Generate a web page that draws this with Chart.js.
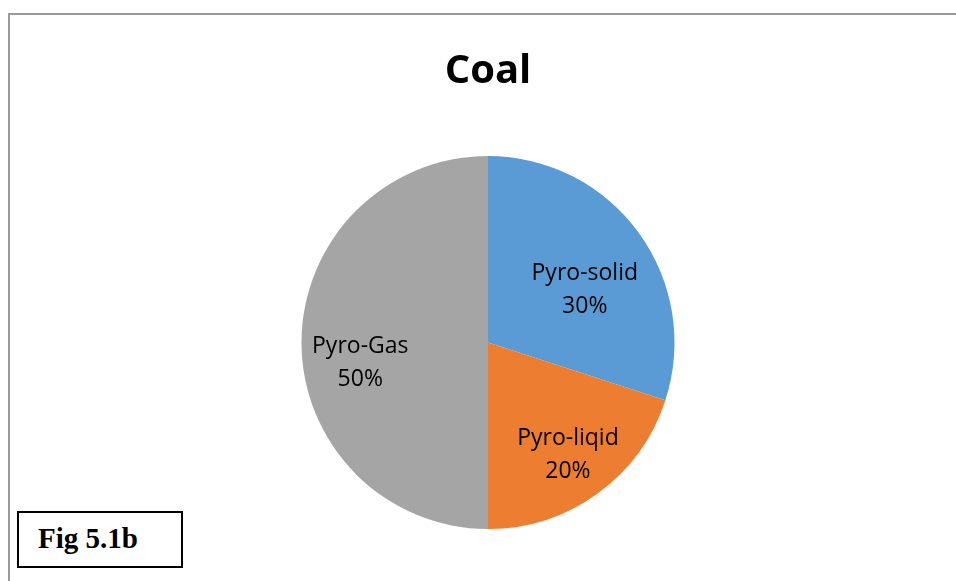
<!DOCTYPE html>
<html>
<head>
<meta charset="utf-8">
<script src="https://cdn.jsdelivr.net/npm/chart.js@4/dist/chart.umd.min.js"></script>
<style>
  html, body { margin: 0; padding: 0; background: #fff; overflow: hidden; }
  #wrap { position: relative; width: 956px; height: 581px; }
  #frame { position: absolute; left: 8px; top: 13px; width: 960px; height: 580px;
           border-left: 2px solid #9a9a9a; border-top: 2px solid #9a9a9a; box-sizing: border-box; }
  #c { position: absolute; left: 0; top: 0; }
  #fig { position: absolute; left: 17px; top: 511px; width: 166px; height: 57px; box-sizing: border-box;
         border: 2px solid #000; background: #fff; font-family: "Liberation Serif", serif; font-weight: bold;
         font-size: 29px; line-height: 51px; padding-left: 19px; color: #000; }
</style>
</head>
<body>
<div id="wrap">
  <div id="frame"></div>
  <canvas id="c" width="956" height="581"></canvas>
  <div id="fig">Fig 5.1b</div>
</div>
<script>
const chartTitle = "Coal";
const categories = ["Pyro-solid", "Pyro-liqid", "Pyro-Gas"];
const shares = [30, 20, 50];
const sliceColors = ["#5B9BD5", "#ED7D31", "#A5A5A5"];

const labelPlugin = {
  id: 'sliceLabels',
  afterDatasetsDraw(chart, args, opts) {
    const ctx = chart.ctx;
    const meta = chart.getDatasetMeta(0);
    const total = shares.reduce((a, b) => a + b, 0);
    ctx.save();
    ctx.font = '23px "Open Sans", sans-serif';
    ctx.fillStyle = '#000';
    ctx.textAlign = 'center';
    ctx.textBaseline = 'middle';
    meta.data.forEach((arc, i) => {
      const p = arc.getProps(['x', 'y', 'startAngle', 'endAngle', 'outerRadius'], true);
      const mid = (p.startAngle + p.endAngle) / 2 + opts.angleOffsets[i] * Math.PI / 180;
      const r = p.outerRadius * opts.radialFractions[i];
      const x = p.x + Math.cos(mid) * r;
      const y = p.y + Math.sin(mid) * r + 2;
      const pct = Math.round(shares[i] / total * 100) + '%';
      ctx.fillText(categories[i], x, y - 16.5);
      ctx.fillText(pct, x, y + 16.5);
    });
    ctx.restore();
  }
};

new Chart(document.getElementById('c'), {
  type: 'pie',
  data: {
    labels: categories,
    datasets: [{
      data: shares,
      backgroundColor: sliceColors,
      borderWidth: 0
    }]
  },
  options: {
    responsive: false,
    animation: false,
    events: [],
    layout: { padding: { left: 20, right: 0, top: 0, bottom: 52 } },
    plugins: {
      legend: { display: false },
      tooltip: { enabled: false },
      title: {
        display: true,
        text: chartTitle,
        color: '#000',
        font: { family: '"Open Sans", sans-serif', size: 40, weight: 'bold', lineHeight: 1.2 },
        padding: { top: 48, bottom: 60 }
      },
      sliceLabels: {
        radialFractions: [0.595, 0.731, 0.692],
        angleOffsets: [6.7, 0.1, -8.2]
      }
    }
  },
  plugins: [labelPlugin]
});
</script>
</body>
</html>
